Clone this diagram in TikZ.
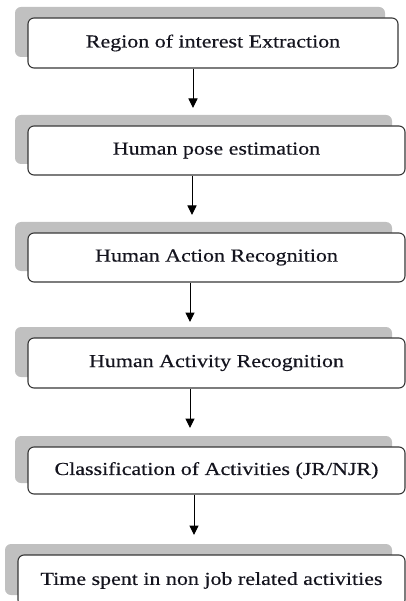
\documentclass[tikz,border=0pt]{standalone}
\usepackage{fontspec}
\setmainfont{Liberation Serif}[FakeStretch=1.2,FakeBold=0.4]
\usetikzlibrary{arrows.meta,shadows}
\definecolor{shadowgray}{RGB}{192,192,192}
\definecolor{edgegray}{RGB}{55,55,55}
\definecolor{txt}{RGB}{20,20,30}
\tikzset{
  stepbox/.style={draw=edgegray, line width=1.1pt, fill=white, rounded corners=6pt,
    inner sep=0pt, text=txt, font=\fontsize{18.3}{20}\selectfont,
    copy shadow={shadow xshift=-13pt, shadow yshift=11pt, fill=shadowgray, draw=none}},
  arr/.style={line width=1pt, -{Triangle[width=9pt,length=9.5pt]}}
}
\begin{document}
\begin{tikzpicture}[x=1pt,y=-1pt]
\useasboundingbox (0,0) rectangle (406,601);
\clip (0,0) rectangle (406,601);
\node[stepbox, minimum width=370pt, minimum height=50pt] (b1) at (213,43) {Region of interest Extraction};
\node[stepbox, minimum width=377pt, minimum height=49pt] (b2) at (216.5,150.5) {Human pose estimation};
\node[stepbox, minimum width=377pt, minimum height=49pt] (b3) at (216.5,257.5) {Human Action Recognition};
\node[stepbox, minimum width=377pt, minimum height=50pt] (b4) at (216.5,363) {Human Activity Recognition};
\node[stepbox, minimum width=377pt, minimum height=47pt] (b5) at (216.5,470.5) {Classification of Activities (JR/NJR)};
\node[stepbox, minimum width=387pt, minimum height=51pt] (b6) at (211.5,580.5) {\raisebox{2pt}{Time spent in non job related activities}};
\coordinate (t1) at (193,108);
\coordinate (t2) at (192,215);
\coordinate (t3) at (190,322);
\coordinate (t4) at (190,428);
\coordinate (t5) at (194,535);
\draw[arr] (b1.south -| t1) -- (t1);
\draw[arr] (b2.south -| t2) -- (t2);
\draw[arr] (b3.south -| t3) -- (t3);
\draw[arr] (b4.south -| t4) -- (t4);
\draw[arr] (b5.south -| t5) -- (t5);
\end{tikzpicture}
\end{document}
